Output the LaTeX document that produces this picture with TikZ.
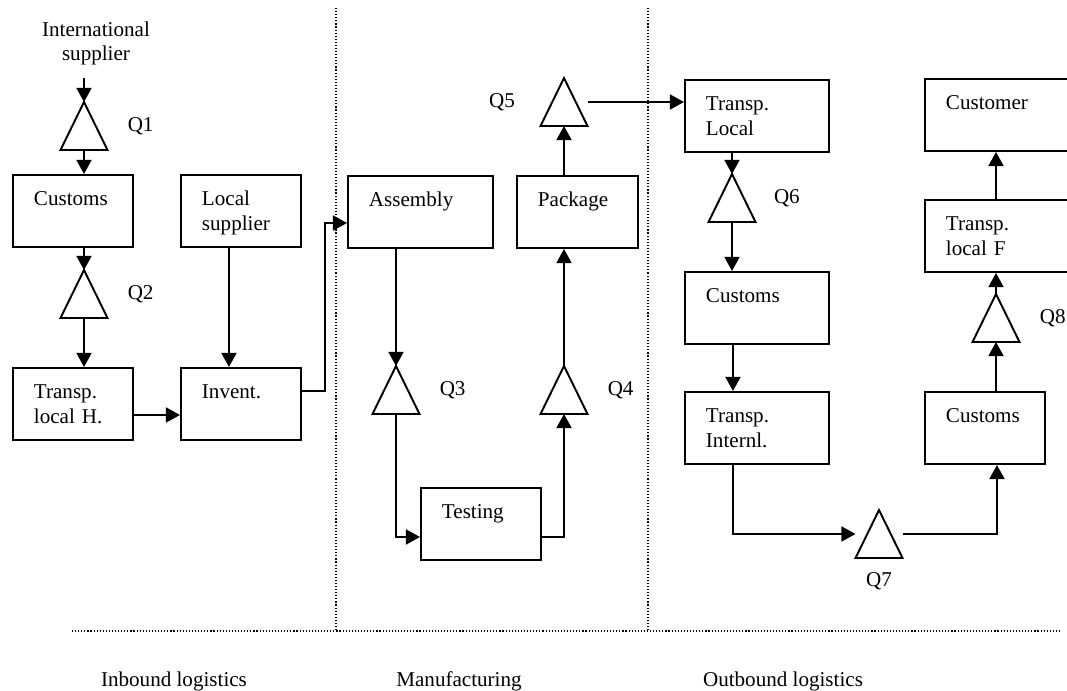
\documentclass[tikz,border=0pt]{standalone}
\usepackage{fontspec}
\setmainfont{Liberation Serif}
\usetikzlibrary{arrows.meta}

\tikzset{
  box/.style={draw, line width=1.1pt, anchor=north west, align=left,
    inner xsep=0.42cm, inner ysep=0pt, text height=17.5pt, text depth=23.5pt,
    text width=#1},
  box/.default=1.56cm,
  qtri/.style={minimum width=0.94cm, minimum height=0.96cm, inner sep=0pt, outer sep=0pt},
  flow/.style={line width=1.1pt, -{Triangle[length=8pt,width=8.5pt]}},
  link/.style={line width=1.1pt},
  zone/.style={line width=0.65pt, dash pattern=on 0.65pt off 1.1pt},
}

\begin{document}
\begin{tikzpicture}[x=0.02cm, y=-0.02cm, font=\fontsize{12pt}{14pt}\selectfont]
    \useasboundingbox (0,0) rectangle (1067,690);

    % zones
    \draw[zone] (336,8) -- (336,631);
    \draw[zone] (648,8) -- (648,631);
    \draw[zone] (72,631) -- (1062,631);
    \node[anchor=base] (inb) at (174,686) {Inbound logistics};
    \node[anchor=base] (man) at (459,686) {Manufacturing};
    \node[anchor=base] (outb) at (783,686) {Outbound logistics};

    % boxes
    \node[align=center, anchor=south, inner sep=0pt, inner ysep=7pt] (intl) at (96,78) {International\\supplier};
    \node[box] (cust) at (12,174) {Customs};
    \node[box] (locs) at (180,174) {Local\\supplier};
    \node[box] (tlh) at (12,367) {Transp.\\local H.};
    \node[box] (inv) at (180,367) {Invent.};
    \node[box=2.06cm] (asm) at (347,175) {Assembly};
    \node[box=1.58cm] (pack) at (516,175) {Package};
    \node[box] (test) at (420,487) {Testing};
    \node[box=2.04cm] (tl) at (684,79) {Transp.\\Local};
    \node[box=2.04cm] (cus2) at (684,271) {Customs};
    \node[box=2.04cm] (ti) at (684,391) {Transp.\\Internl.};
    \node[box=2.6cm] (custr) at (924,78) {Customer};
    \node[box=2.6cm] (tlf) at (924,199) {Transp.\\local F};
    \node[box] (cus3) at (924,391) {Customs};

    % queues
    \node[qtri, label={[label distance=8pt]right:Q1}] (q1) at (84,126) {};
    \node[qtri, label={[label distance=8pt]right:Q2}] (q2) at (84,294) {};
    \node[qtri, label={[label distance=8pt]right:Q3}] (q3) at (396,390) {};
    \node[qtri, label={[label distance=8pt]right:Q4}] (q4) at (564,390) {};
    \node[qtri, label={[label distance=11pt]left:Q5}] (q5) at (564,102) {};
    \node[qtri, label={[label distance=7pt]right:Q6}] (q6) at (732,198) {};
    \node[qtri, label={[label distance=5pt]below:Q7}] (q7) at (879,534) {};
    \node[qtri, label={[label distance=8pt]right:Q8}] (q8) at (996,318) {};
    \foreach \i in {1,...,8}
        \draw[link] (q\i.south west) -- (q\i.north) -- (q\i.south east) -- cycle;

    % inbound
    \draw[flow] (intl.south -| q1.north) -- (q1.north);
    \draw[flow] (q1.south) -- (q1.south |- cust.north);
    \draw[flow] (cust.south -| q2.north) -- (q2.north);
    \draw[flow] (q2.south) -- (q2.south |- tlh.north);
    \draw[flow] ([xshift=-0.24cm]locs.south) -- ([xshift=-0.24cm]inv.north);
    \draw[flow] ([yshift=-0.22cm]tlh.east) -- ([yshift=-0.22cm]inv.west);
    \draw[flow] ([yshift=0.26cm]inv.east) -- ++(23,0) |- ([yshift=-0.22cm]asm.west);

    % manufacturing
    \draw[flow] (asm.south -| q3.north) -- (q3.north);
    \draw[flow] (q3.south) |- ([yshift=-0.26cm]test.west);
    \draw[flow] ([yshift=-0.26cm]test.east) -| (q4.south);
    \draw[flow] (q4.north) -- (q4.north |- pack.south);
    \draw[flow] (pack.north -| q5.south) -- (q5.south);
    \draw[flow] (q5.east) -- (q5.east -| tl.west);

    % outbound
    \draw[flow] (tl.south -| q6.north) -- (q6.north);
    \draw[flow] (q6.south) -- (q6.south |- cus2.north);
    \draw[flow] ([xshift=-0.48cm]cus2.south) -- ([xshift=-0.48cm]ti.north);
    \draw[flow] ([xshift=-0.48cm]ti.south) |- (q7.west);
    \draw[flow] (q7.east) -| ([xshift=0.24cm]cus3.south);
    \draw[flow] (cus3.north -| q8.south) -- (q8.south);
    \draw[flow] (q8.north) -- (q8.north |- tlf.south);
    \draw[flow] (tlf.north -| q8.north) -- (q8.north |- custr.south);
\end{tikzpicture}
\end{document}
